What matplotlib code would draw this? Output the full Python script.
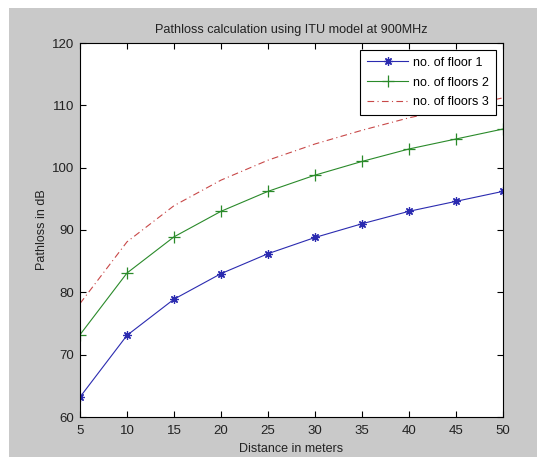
import matplotlib
matplotlib.use("Agg")
import matplotlib.pyplot as plt
from matplotlib.patches import Rectangle

distance = [5, 10, 15, 20, 25, 30, 35, 40, 45, 50]
floor1 = [63.2, 73.1, 78.9, 83.0, 86.2, 88.8, 91.0, 93.0, 94.6, 96.2]
floor2 = [73.2, 83.1, 88.9, 93.0, 96.2, 98.8, 101.0, 103.0, 104.6, 106.2]
floor3 = [78.2, 88.1, 93.9, 98.0, 101.2, 103.8, 106.0, 108.0, 109.6, 111.2]
labels = ["no. of floor 1", "no. of floors 2", "no. of floors 3"]
xticks = [5, 10, 15, 20, 25, 30, 35, 40, 45, 50]
yticks = [60, 70, 80, 90, 100, 110, 120]

plt.rcParams['font.family'] = ['Liberation Sans', 'DejaVu Sans']

W, H = 537, 457
fig = plt.figure(figsize=(W / 100, H / 100), dpi=100, facecolor='white')
fig.patches.append(Rectangle((9 / W, 0), 1, 1 - 8 / H, transform=fig.transFigure,
                             facecolor='#c9c9c9', edgecolor='none', zorder=-10))
ax = fig.add_axes([80 / W, 1 - 417 / H, (503 - 80) / W, (417 - 43) / H])
ax.set_facecolor('white')

ax.plot(distance, floor1, color='#2b2bb0', lw=0.8, marker=(8, 2, 0), ms=6, mew=0.9, label=labels[0])
ax.plot(distance, floor2, color='#2a8a2a', lw=0.8, marker='+', ms=8, mew=0.9, label=labels[1])
ax.plot(distance, floor3, color='#c84848', lw=0.8, dashes=(6, 3, 1, 3), label=labels[2])

ax.set_xlim(5, 50)
ax.set_ylim(60, 120)
ax.set_xticks(xticks)
ax.set_yticks(yticks)
ax.tick_params(direction='in', top=True, right=True, length=4, width=0.8,
               labelsize=9.5, colors='black', labelcolor='#222222')
ax.tick_params(axis='x', pad=6)
ax.tick_params(axis='y', pad=4)
for s in ax.spines.values():
    s.set_linewidth(0.8)
ax.set_title("Pathloss calculation using ITU model at 900MHz", fontsize=9.1, pad=7, color='#222222')
ax.set_xlabel("Distance in meters", fontsize=9, labelpad=4, color='#222222')
ax.set_ylabel("Pathloss in dB", fontsize=9, labelpad=3, color='#222222')

leg = ax.legend(loc='upper right', fontsize=9, fancybox=False, framealpha=1,
                edgecolor='black', borderaxespad=0.55, handlelength=3.3,
                labelspacing=0.62, borderpad=0.55, handletextpad=0.4)
leg.get_frame().set_linewidth(0.8)

fig.savefig("out.png", dpi=100, facecolor=fig.get_facecolor())
